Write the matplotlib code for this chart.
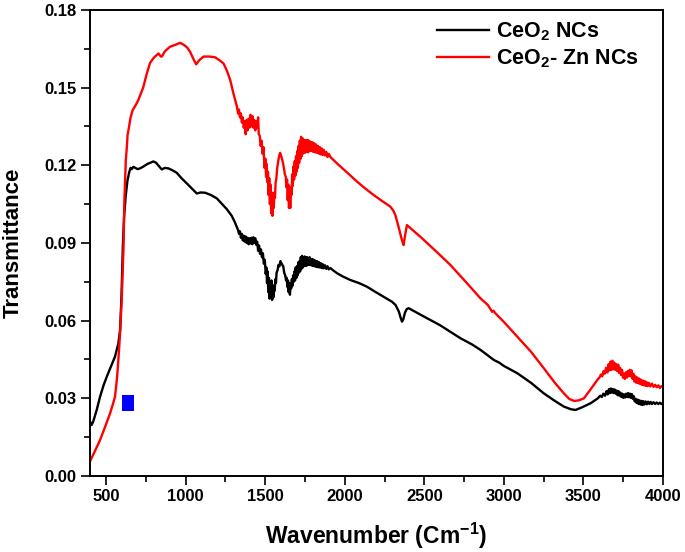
import matplotlib
matplotlib.use("Agg")
import matplotlib.pyplot as plt
from matplotlib.ticker import MultipleLocator, FormatStrFormatter

plt.rcParams['font.family'] = ['Liberation Sans', 'DejaVu Sans']
plt.rcParams['font.weight'] = 'bold'
plt.rcParams['mathtext.fontset'] = 'custom'
plt.rcParams['mathtext.rm'] = 'Liberation Sans:bold'
plt.rcParams['mathtext.bf'] = 'Liberation Sans:bold'
plt.rcParams['mathtext.it'] = 'Liberation Sans:bold'
plt.rcParams['mathtext.default'] = 'bf'

# ---- data: (wavenumber, transmittance) ----
ceo2_points = [
    (400, 0.021), (410, 0.0197), (420, 0.021), (442, 0.0255), (463, 0.0306), (485, 0.035), (505, 0.0383),
    (530, 0.042), (557, 0.0461), (578, 0.0512), (589, 0.0564), (598, 0.07), (606, 0.088), (614, 0.100),
    (624, 0.108), (635, 0.114), (647, 0.1175), (655, 0.119), (662, 0.1185), (672, 0.1194), (685, 0.119),
    (700, 0.1185), (714, 0.1188), (735, 0.1195), (760, 0.1205), (780, 0.121), (798, 0.1215), (815, 0.121),
    (835, 0.1195), (851, 0.1184), (870, 0.119), (893, 0.1188), (920, 0.118), (945, 0.1171), (975, 0.115),
    (1008, 0.113), (1040, 0.111), (1071, 0.1091), (1095, 0.1095), (1123, 0.1094), (1160, 0.1085),
    (1197, 0.1072), (1230, 0.105), (1260, 0.103), (1290, 0.1005), (1310, 0.098),
    (1330, 0.095), (1336, 0.0935), (1342, 0.0945), (1348, 0.092), (1354, 0.0935), (1360, 0.091),
    (1366, 0.0928), (1372, 0.0905), (1378, 0.0925), (1384, 0.090), (1390, 0.092), (1396, 0.0895),
    (1402, 0.0918), (1408, 0.0898), (1414, 0.092), (1420, 0.0895), (1426, 0.0922), (1432, 0.090),
    (1438, 0.0918), (1444, 0.0893), (1450, 0.0905), (1456, 0.087), (1462, 0.089), (1468, 0.0858),
    (1474, 0.0875), (1480, 0.0845), (1486, 0.086), (1492, 0.082), (1498, 0.0835), (1504, 0.078),
    (1508, 0.0805), (1512, 0.0745), (1516, 0.079), (1520, 0.071), (1524, 0.0765), (1528, 0.0685),
    (1532, 0.0745), (1536, 0.070), (1540, 0.0755), (1544, 0.068), (1548, 0.0735), (1552, 0.069),
    (1556, 0.0735), (1560, 0.0715), (1564, 0.076), (1568, 0.0745), (1572, 0.0785), (1578, 0.0795),
    (1584, 0.0815), (1590, 0.081), (1596, 0.083), (1602, 0.0822), (1608, 0.0815), (1614, 0.081),
    (1620, 0.0785), (1626, 0.0775), (1632, 0.0755), (1636, 0.0765), (1640, 0.073), (1644, 0.0755),
    (1648, 0.071), (1652, 0.0745), (1656, 0.070), (1660, 0.0745), (1664, 0.0725), (1668, 0.076),
    (1672, 0.0735), (1676, 0.0775), (1680, 0.075), (1684, 0.079), (1688, 0.0755), (1692, 0.0805),
    (1696, 0.0765), (1700, 0.081), (1704, 0.0775), (1708, 0.0825), (1712, 0.0785), (1716, 0.083),
    (1720, 0.079), (1724, 0.0845), (1728, 0.080), (1732, 0.085), (1736, 0.0805), (1740, 0.0845),
    (1744, 0.081), (1748, 0.0848), (1752, 0.0812), (1756, 0.0845), (1760, 0.0812), (1764, 0.0845),
    (1768, 0.0815), (1772, 0.0842), (1776, 0.0815), (1780, 0.0845), (1784, 0.0815), (1788, 0.0838),
    (1792, 0.0813), (1796, 0.0838), (1800, 0.0812), (1805, 0.0835), (1810, 0.081), (1815, 0.0832),
    (1820, 0.0808), (1826, 0.083), (1832, 0.0806), (1838, 0.0826), (1844, 0.0805), (1850, 0.0822),
    (1856, 0.0803), (1862, 0.0818), (1868, 0.0802), (1876, 0.0814), (1884, 0.0800), (1892, 0.081),
    (1900, 0.0798), (1910, 0.0803), (1930, 0.0793), (1952, 0.0783), (1990, 0.077), (2035, 0.0757),
    (2090, 0.0745), (2140, 0.0731), (2190, 0.0712), (2245, 0.0692), (2297, 0.0673), (2320, 0.066),
    (2340, 0.0635), (2352, 0.061), (2360, 0.0596), (2368, 0.0605), (2378, 0.063), (2390, 0.0645),
    (2402, 0.0648), (2500, 0.0615), (2600, 0.0582), (2664, 0.0557), (2727, 0.0532), (2800, 0.0508),
    (2853, 0.0487), (2900, 0.0465), (2937, 0.0448), (2970, 0.0438), (3000, 0.0425), (3084, 0.0397),
    (3170, 0.036), (3251, 0.0319), (3320, 0.029), (3377, 0.0268), (3420, 0.0258), (3450, 0.0255),
    (3490, 0.0265), (3545, 0.0281), (3590, 0.030), (3605, 0.031), (3615, 0.0305), (3625, 0.0318),
    (3635, 0.031), (3645, 0.0328), (3652, 0.0315), (3660, 0.0335), (3666, 0.032), (3672, 0.0338),
    (3678, 0.0322), (3684, 0.0336), (3690, 0.032), (3696, 0.0334), (3702, 0.0318), (3708, 0.033),
    (3714, 0.0312), (3720, 0.0328), (3726, 0.031), (3732, 0.0322), (3738, 0.0305), (3744, 0.0318),
    (3750, 0.0302), (3756, 0.0315), (3762, 0.0303), (3768, 0.0318), (3774, 0.0305), (3780, 0.032),
    (3786, 0.0304), (3792, 0.0318), (3798, 0.0302), (3804, 0.0316), (3810, 0.0298), (3816, 0.0308),
    (3822, 0.0288), (3828, 0.0298), (3834, 0.0282), (3840, 0.0295), (3846, 0.0278), (3852, 0.0292),
    (3858, 0.0276), (3864, 0.029), (3870, 0.0274), (3876, 0.0289), (3882, 0.0276), (3890, 0.0288),
    (3898, 0.0277), (3906, 0.0287), (3914, 0.0278), (3922, 0.0286), (3930, 0.0278), (3940, 0.0285),
    (3950, 0.0278), (3960, 0.0284), (3970, 0.0278), (3980, 0.0283), (3990, 0.0278), (4000, 0.0281),
]

zn_points = [
    (400, 0.0055), (404, 0.0062), (430, 0.0095), (463, 0.0139), (495, 0.019), (526, 0.0242), (545, 0.028),
    (557, 0.0306), (570, 0.038), (578, 0.0448), (589, 0.0551), (599, 0.068), (610, 0.0873), (616, 0.1066),
    (625, 0.122), (632, 0.1275), (636, 0.1318), (640, 0.133), (648, 0.136), (655, 0.1385), (668, 0.1413),
    (685, 0.143), (702, 0.145), (718, 0.1475), (734, 0.150), (755, 0.155), (777, 0.1595), (800, 0.1615),
    (818, 0.1625), (830, 0.1632), (845, 0.162), (851, 0.162), (870, 0.164), (903, 0.1658), (935, 0.1665),
    (966, 0.1673), (990, 0.1665), (1010, 0.1655), (1029, 0.1638), (1050, 0.161), (1067, 0.159),
    (1085, 0.1605), (1113, 0.162), (1150, 0.162), (1186, 0.1617), (1215, 0.1605), (1239, 0.1593),
    (1260, 0.1565), (1281, 0.1529), (1300, 0.148), (1323, 0.1426),
    (1330, 0.140), (1336, 0.1415), (1342, 0.1385), (1348, 0.140), (1354, 0.1365), (1360, 0.1385),
    (1366, 0.1345), (1372, 0.137), (1378, 0.132), (1384, 0.1375), (1390, 0.1335), (1396, 0.138),
    (1402, 0.1345), (1408, 0.1395), (1414, 0.135), (1420, 0.139), (1426, 0.1345), (1432, 0.1375),
    (1438, 0.1335), (1444, 0.137), (1450, 0.1345), (1456, 0.1385), (1460, 0.132), (1466, 0.1315),
    (1472, 0.1275), (1478, 0.1295), (1484, 0.1245), (1490, 0.127), (1496, 0.119), (1502, 0.1225),
    (1506, 0.1155), (1510, 0.1205), (1514, 0.1135), (1518, 0.1175), (1522, 0.1085), (1526, 0.115),
    (1530, 0.105), (1534, 0.1125), (1538, 0.1015), (1542, 0.1095), (1546, 0.1005), (1550, 0.1085),
    (1554, 0.1035), (1558, 0.1095), (1562, 0.1075), (1566, 0.1135), (1570, 0.1145), (1576, 0.119),
    (1582, 0.1215), (1588, 0.1235), (1594, 0.1248), (1600, 0.1238), (1606, 0.1225), (1612, 0.121),
    (1618, 0.119), (1624, 0.1165), (1630, 0.1155), (1634, 0.1115), (1638, 0.1145), (1642, 0.1065),
    (1646, 0.1125), (1650, 0.1035), (1654, 0.1105), (1658, 0.1035), (1662, 0.1115), (1666, 0.1085),
    (1670, 0.1165), (1674, 0.112), (1678, 0.1195), (1682, 0.1145), (1686, 0.1215), (1690, 0.116),
    (1694, 0.1235), (1698, 0.1175), (1702, 0.1255), (1706, 0.119), (1710, 0.1275), (1714, 0.121),
    (1718, 0.1295), (1722, 0.1225), (1726, 0.131), (1730, 0.1235), (1734, 0.1305), (1738, 0.1245),
    (1742, 0.1295), (1746, 0.1248), (1750, 0.1298), (1754, 0.125), (1758, 0.1295), (1762, 0.1252),
    (1766, 0.1298), (1770, 0.125), (1774, 0.1295), (1778, 0.1255), (1782, 0.1292), (1786, 0.1255),
    (1790, 0.129), (1794, 0.1255), (1798, 0.1288), (1802, 0.1252), (1808, 0.1285), (1814, 0.125),
    (1820, 0.128), (1826, 0.1248), (1832, 0.1275), (1838, 0.1245), (1844, 0.127), (1850, 0.1242),
    (1856, 0.1265), (1862, 0.124), (1868, 0.126), (1876, 0.1238), (1884, 0.1252), (1892, 0.1232),
    (1900, 0.1244), (1910, 0.1232), (1930, 0.122), (1952, 0.1207), (2010, 0.1175), (2077, 0.1137),
    (2130, 0.111), (2182, 0.1085), (2235, 0.1062), (2287, 0.104), (2305, 0.1025), (2318, 0.1008),
    (2335, 0.097), (2349, 0.0937), (2360, 0.091), (2370, 0.0892), (2378, 0.0925), (2385, 0.095),
    (2391, 0.0969), (2430, 0.0948), (2475, 0.0924), (2570, 0.087), (2664, 0.0815), (2760, 0.075),
    (2853, 0.0686), (2900, 0.066), (2926, 0.0634), (2935, 0.0638), (2947, 0.0628), (3000, 0.0595),
    (3084, 0.0538), (3170, 0.048), (3251, 0.0416), (3320, 0.036), (3377, 0.0319), (3410, 0.0298),
    (3440, 0.029), (3470, 0.0292), (3503, 0.030), (3545, 0.0335), (3587, 0.0371), (3600, 0.038),
    (3610, 0.0392), (3618, 0.0385), (3626, 0.0405), (3634, 0.0395), (3642, 0.0418), (3650, 0.040),
    (3658, 0.0432), (3664, 0.0408), (3670, 0.0442), (3676, 0.041), (3682, 0.0445), (3688, 0.0412),
    (3694, 0.0438), (3700, 0.041), (3706, 0.0432), (3712, 0.0405), (3718, 0.043), (3724, 0.0398),
    (3730, 0.0418), (3736, 0.039), (3742, 0.041), (3748, 0.038), (3754, 0.0395), (3760, 0.0375),
    (3766, 0.040), (3772, 0.038), (3778, 0.0405), (3784, 0.0385), (3790, 0.041), (3796, 0.0385),
    (3802, 0.0408), (3808, 0.0375), (3814, 0.0395), (3820, 0.0365), (3826, 0.0385), (3832, 0.036),
    (3838, 0.038), (3844, 0.0358), (3850, 0.0376), (3856, 0.0355), (3862, 0.0372), (3868, 0.0352),
    (3874, 0.0368), (3880, 0.035), (3886, 0.0366), (3892, 0.0348), (3898, 0.0362), (3904, 0.0347),
    (3910, 0.036), (3920, 0.0346), (3930, 0.0357), (3940, 0.0344), (3950, 0.0352), (3960, 0.0343),
    (3970, 0.035), (3980, 0.034), (3990, 0.0347), (4000, 0.0343),
]

ceo2_wn = [p[0] for p in ceo2_points]
ceo2_t = [p[1] for p in ceo2_points]
zn_wn = [p[0] for p in zn_points]
zn_t = [p[1] for p in zn_points]

marker_wn = [640]
marker_t = [0.028]

series_labels = ['CeO$_2$ NCs', 'CeO$_2$- Zn NCs']
x_ticks = [500, 1000, 1500, 2000, 2500, 3000, 3500, 4000]
y_ticks = [0.00, 0.03, 0.06, 0.09, 0.12, 0.15, 0.18]

fig = plt.figure(figsize=(6.85, 5.52), dpi=100)
ax = fig.add_axes([0.1314, 0.1377, 0.8366, 0.8443])

ax.plot(ceo2_wn, ceo2_t, color='black', lw=1.7, label=series_labels[0])
ax.plot(zn_wn, zn_t, color='#ff0000', lw=1.7, label=series_labels[1])
rect = [(-0.75, -1), (0.75, -1), (0.75, 1), (-0.75, 1), (-0.75, -1)]
ax.plot(marker_wn, marker_t, linestyle='none', marker=rect, markersize=11,
        color='#0000ff', markeredgewidth=0)

ax.set_xlim(400, 4000)
ax.set_ylim(0, 0.18)
ax.set_xticks(x_ticks)
ax.set_yticks(y_ticks)
ax.xaxis.set_minor_locator(MultipleLocator(250))
ax.yaxis.set_minor_locator(MultipleLocator(0.015))
ax.yaxis.set_major_formatter(FormatStrFormatter('%.2f'))
ax.tick_params(which='major', direction='out', length=6.5, width=1.2, labelsize=12, pad=3)
ax.tick_params(which='minor', direction='out', length=4, width=1.2)
ax.tick_params(top=False, right=False, which='both')
for s in ax.spines.values():
    s.set_linewidth(1.4)
for lab in ax.get_xticklabels() + ax.get_yticklabels():
    lab.set_fontweight('bold')

ax.set_xlabel('Wavenumber (Cm$^{-1}$)', fontsize=16.5, fontweight='bold')
ax.set_ylabel('Transmittance', fontsize=16, fontweight='bold')
ax.xaxis.set_label_coords(0.5, -0.097)
ax.yaxis.set_label_coords(-0.116, 0.5)

leg = ax.legend(loc='upper right', bbox_to_anchor=(0.976, 1.0), frameon=False, fontsize=15.5,
                handlelength=2.4, handletextpad=0.3, borderaxespad=0.1, labelspacing=0.2)

fig.savefig('out.png', dpi=100)
